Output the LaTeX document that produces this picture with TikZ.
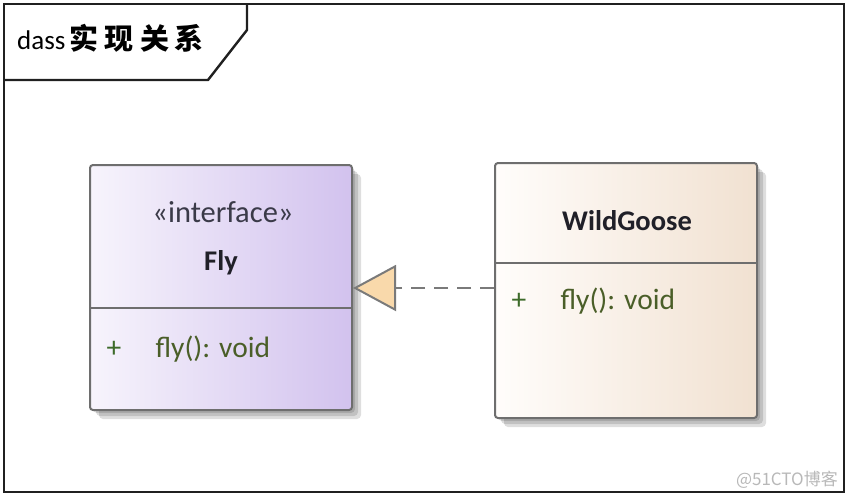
\documentclass[tikz,border=0pt]{standalone}
\usepackage{fontspec}
\setmainfont{Carlito}
\newfontfamily\cjk{Noto Sans CJK SC}
\usetikzlibrary{arrows.meta}
\definecolor{framec}{HTML}{202020}
\definecolor{boxgray}{HTML}{6E6E6E}
\definecolor{flyL}{HTML}{F7F4FC}
\definecolor{flyR}{HTML}{D2C2EE}
\definecolor{wildL}{HTML}{FFFDFB}
\definecolor{wildR}{HTML}{F1E1D1}
\definecolor{trifill}{HTML}{F9D9AB}
\definecolor{linkc}{HTML}{7A7A7A}
\definecolor{methc}{HTML}{4A5E28}
\definecolor{plusc}{HTML}{3D6B2A}
\definecolor{stereoc}{HTML}{3A3A48}
\definecolor{namec}{HTML}{202028}
\tikzset{
  frameline/.style={draw=framec, line width=2.4pt},
  classbox/.style={draw=boxgray, line width=2pt, rounded corners=3pt, inner sep=0pt},
  divider/.style={draw=boxgray, line width=2pt},
  shadowbox/.style={fill=black, opacity=0.13, rounded corners=4pt},
  umltext/.style={font=\fontsize{29.5}{34}\selectfont, anchor=base},
  nametext/.style={umltext, font=\fontsize{28.5}{34}\selectfont\bfseries, text=namec},
  methtext/.style={umltext, anchor=base west, text=methc},
  plustext/.style={umltext, anchor=base west, text=plusc},
  realize/.style={draw=linkc, line width=2.8pt, dash pattern=on 14pt off 9pt,
    -{Triangle[length=43pt,width=46pt,fill=trifill,line width=2pt]}},
}
\begin{document}
\begin{tikzpicture}[x=1pt,y=-1pt]
\useasboundingbox (0,0) rectangle (848,496);
% frame
\draw[frameline] (4,4) rectangle (844,492);
\draw[frameline] (4,80) -- (208,80) -- (247,30) -- (247,4);
\node[anchor=base west, inner sep=0pt, font=\fontsize{27}{30}\selectfont, text=black] (title) at (17,49)
  {dass\hspace{4pt}{\cjk\bfseries\fontsize{29}{30}\selectfont 实\hspace{6pt}现\hspace{7pt}关\hspace{5pt}系}};
% shadows
\foreach \d in {3,6,9}{
  \fill[shadowbox] (90+\d,165+\d) rectangle (352+\d,410+\d);
  \fill[shadowbox] (495+\d,163+\d) rectangle (757+\d,418+\d);
}
% Fly interface
\node[classbox, left color=flyL, right color=flyR, minimum width=262pt, minimum height=245pt] (fly) at (221,287.5) {};
\draw[divider] (fly.west |- 0,308) -- (fly.east |- 0,308);
\node[umltext, text=stereoc, font=\fontsize{30.5}{34}\selectfont] (flyst) at (223,222) {«interface»};
\node[nametext] (flyname) at (221,270) {Fly};
\node[plustext] (flyplus) at (103,357) {+};
\node[methtext] (flymeth) at (152,357) {fly(): void};
% WildGoose class
\node[classbox, left color=wildL, right color=wildR, minimum width=262pt, minimum height=255pt] (wild) at (626,290.5) {};
\draw[divider] (wild.west |- 0,263) -- (wild.east |- 0,263);
\node[nametext] (wildname) at (627,230) {WildGoose};
\node[plustext] (wildplus) at (508,309) {+};
\node[methtext] (wildmeth) at (557,309) {fly(): void};
% realization
\draw[realize] (wild.west |- 0,288) -- (fly.east |- 0,288);
% watermark
\node[anchor=base east, inner sep=0pt, text=black!28, font=\cjk\fontsize{17}{20}\selectfont] (wm) at (838,485) {@51CTO博客};
\end{tikzpicture}
\end{document}
